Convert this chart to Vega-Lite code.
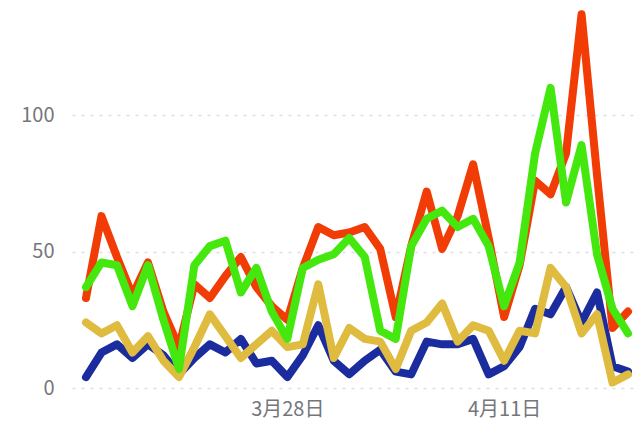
{
  "$schema": "https://vega.github.io/schema/vega-lite/v6.json",
  "autosize": "none",
  "width": 562,
  "height": 382,
  "padding": {"left": 72, "top": 6, "right": 0, "bottom": 34},
  "background": "white",
  "config": {"view": {"stroke": null}, "font": "Noto Sans CJK SC"},
  "data": {
    "values": [
      {"date": "2024-03-15", "red": 33, "green": 37, "yellow": 24, "blue": 4},
      {"date": "2024-03-16", "red": 63, "green": 46, "yellow": 20, "blue": 13},
      {"date": "2024-03-17", "red": 48, "green": 45, "yellow": 23, "blue": 16},
      {"date": "2024-03-18", "red": 34, "green": 30, "yellow": 13, "blue": 11},
      {"date": "2024-03-19", "red": 46, "green": 45, "yellow": 19, "blue": 16},
      {"date": "2024-03-20", "red": 28, "green": 25, "yellow": 10, "blue": 12},
      {"date": "2024-03-21", "red": 15, "green": 7, "yellow": 4, "blue": 5},
      {"date": "2024-03-22", "red": 38, "green": 45, "yellow": 15, "blue": 11},
      {"date": "2024-03-23", "red": 33, "green": 52, "yellow": 27, "blue": 16},
      {"date": "2024-03-24", "red": 41, "green": 54, "yellow": 19, "blue": 13},
      {"date": "2024-03-25", "red": 48, "green": 35, "yellow": 11, "blue": 18},
      {"date": "2024-03-26", "red": 37, "green": 44, "yellow": 16, "blue": 9},
      {"date": "2024-03-27", "red": 30, "green": 28, "yellow": 21, "blue": 10},
      {"date": "2024-03-28", "red": 25, "green": 18, "yellow": 15, "blue": 4},
      {"date": "2024-03-29", "red": 44, "green": 44, "yellow": 16, "blue": 12},
      {"date": "2024-03-30", "red": 59, "green": 47, "yellow": 38, "blue": 23},
      {"date": "2024-03-31", "red": 56, "green": 49, "yellow": 11, "blue": 10},
      {"date": "2024-04-01", "red": 57, "green": 55, "yellow": 22, "blue": 5},
      {"date": "2024-04-02", "red": 59, "green": 48, "yellow": 18, "blue": 10},
      {"date": "2024-04-03", "red": 51, "green": 21, "yellow": 17, "blue": 14},
      {"date": "2024-04-04", "red": 26, "green": 18, "yellow": 7, "blue": 6},
      {"date": "2024-04-05", "red": 52, "green": 52, "yellow": 21, "blue": 5},
      {"date": "2024-04-06", "red": 72, "green": 62, "yellow": 24, "blue": 17},
      {"date": "2024-04-07", "red": 51, "green": 65, "yellow": 31, "blue": 16},
      {"date": "2024-04-08", "red": 63, "green": 59, "yellow": 17, "blue": 16},
      {"date": "2024-04-09", "red": 82, "green": 62, "yellow": 23, "blue": 18},
      {"date": "2024-04-10", "red": 55, "green": 52, "yellow": 21, "blue": 5},
      {"date": "2024-04-11", "red": 26, "green": 30, "yellow": 10, "blue": 8},
      {"date": "2024-04-12", "red": 45, "green": 46, "yellow": 21, "blue": 15},
      {"date": "2024-04-13", "red": 76, "green": 86, "yellow": 20, "blue": 29},
      {"date": "2024-04-14", "red": 71, "green": 110, "yellow": 44, "blue": 27},
      {"date": "2024-04-15", "red": 86, "green": 68, "yellow": 37, "blue": 37},
      {"date": "2024-04-16", "red": 137, "green": 89, "yellow": 20, "blue": 24},
      {"date": "2024-04-17", "red": 78, "green": 49, "yellow": 27, "blue": 35},
      {"date": "2024-04-18", "red": 22, "green": 29, "yellow": 2, "blue": 8},
      {"date": "2024-04-19", "red": 28, "green": 20, "yellow": 5, "blue": 6}
    ]
  },
  "transform": [{"fold": ["blue", "yellow", "red", "green"], "as": ["series", "value"]}],
  "mark": {"type": "line", "strokeWidth": 8, "strokeJoin": "round", "strokeCap": "round", "clip": false},
  "encoding": {
    "x": {
      "field": "date",
      "type": "temporal",
      "scale": {
        "type": "utc",
        "domain": [
          {"year": 2024, "month": 3, "date": 14, "hours": 2, "minutes": 18, "utc": true},
          {"year": 2024, "month": 4, "date": 19, "hours": 9, "minutes": 18, "utc": true}
        ]
      },
      "axis": {
        "values": [
          {"year": 2024, "month": 3, "date": 28, "utc": true},
          {"year": 2024, "month": 4, "date": 11, "utc": true}
        ],
        "labelExpr": "(utcmonth(datum.value)+1)+'月'+utcdate(datum.value)+'日'",
        "grid": false,
        "domain": false,
        "ticks": false,
        "labelFontSize": 20,
        "labelColor": "#75767c",
        "labelPadding": 11,
        "title": null
      }
    },
    "y": {
      "field": "value",
      "type": "quantitative",
      "scale": {"domain": [0, 140], "nice": false},
      "axis": {
        "values": [0, 50, 100],
        "grid": true,
        "gridDash": [3, 6],
        "gridColor": "#dcdfe6",
        "gridWidth": 1.5,
        "domain": false,
        "ticks": false,
        "labelFontSize": 20,
        "labelColor": "#75767c",
        "labelPadding": 18,
        "title": null
      }
    },
    "color": {
      "field": "series",
      "type": "nominal",
      "scale": {
        "domain": ["blue", "yellow", "red", "green"],
        "range": ["#1a2c9e", "#dfbb3f", "#f23c05", "#44e80f"]
      },
      "legend": null
    }
  }
}
